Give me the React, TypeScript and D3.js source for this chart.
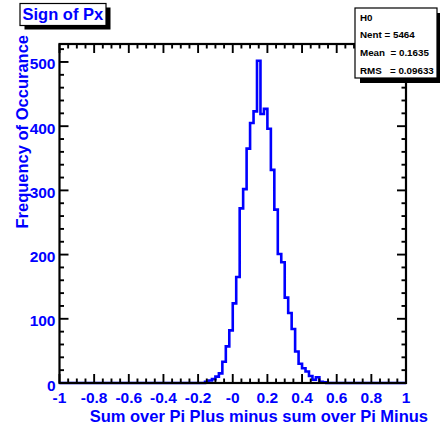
import React from "react";
import * as d3 from "d3";

// Histogram "Sign of Px": bin lower edges (bin width 0.02 over [-1, 1]) and counts
const binWidth = 0.02;
const binLowEdges = [
  -0.16, -0.14, -0.12, -0.1, -0.08, -0.06, -0.04, -0.02, 0, 0.02, 0.04, 0.06,
  0.08, 0.1, 0.12, 0.14, 0.16, 0.18, 0.2, 0.22, 0.24, 0.26, 0.28, 0.3, 0.32,
  0.34, 0.36, 0.38, 0.4, 0.42, 0.44, 0.46, 0.48, 0.5, 0.52,
];
const counts = [
  2, 4, 6, 10, 15, 33, 57, 82, 124, 165, 272, 302, 365, 405, 423, 502, 419,
  427, 396, 332, 270, 201, 188, 133, 109, 84, 49, 30, 23, 18, 11, 5, 9, 2, 1,
];

const xTickValues = [-1, -0.8, -0.6, -0.4, -0.2, 0, 0.2, 0.4, 0.6, 0.8, 1];
const xTickLabels = ["-1", "-0.8", "-0.6", "-0.4", "-0.2", "-0", "0.2", "0.4", "0.6", "0.8", "1"];
const yTickValues = [0, 100, 200, 300, 400, 500];
const yTickLabels = ["0", "100", "200", "300", "400", "500"];

const titleText = "Sign of Px";
const xTitle = "Sum over Pi Plus minus sum over Pi Minus";
const yTitle = "Frequency of Occurance";
const statsLines = ["H0", "Nent = 5464", "Mean  = 0.1635", "RMS   = 0.09633"];

const W = 440;
const H = 428;
const frame = { left: 59.5, right: 406, top: 44, bottom: 383 };
const BLUE = "#0000ff";
const FONT = "'Liberation Sans', Arial, Helvetica, sans-serif";

export default function App() {
  const x = d3.scaleLinear().domain([-1, 1]).range([frame.left, frame.right]);
  const y = d3.scaleLinear().domain([0, 528]).range([frame.bottom, frame.top]);

  // stepped outline of the histogram
  const pts: [number, number][] = [[-1, 0]];
  pts.push([binLowEdges[0], 0]);
  binLowEdges.forEach((lo, i) => {
    pts.push([lo, counts[i]]);
    pts.push([lo + binWidth, counts[i]]);
  });
  pts.push([binLowEdges[binLowEdges.length - 1] + binWidth, 0]);
  pts.push([1, 0]);
  const line = d3
    .line<[number, number]>()
    .x((d) => x(d[0]))
    .y((d) => y(d[1]));

  const xMinor = d3.range(-1, 1.0001, 0.05).filter(
    (v) => !xTickValues.some((t) => Math.abs(t - v) < 1e-6)
  );
  const yMinor = d3.range(0, 528, 20).filter((v) => v % 100 !== 0);

  const MAJ = 9;
  const MIN = 4.5;

  return (
    <svg
      width={W}
      height={H}
      style={{ position: "absolute", left: 0, top: 0, background: "#fff" }}
      fontFamily={FONT}
    >
      <rect x={0} y={0} width={W} height={H} fill="#fff" />

      {/* histogram */}
      <path d={line(pts) || ""} fill="none" stroke={BLUE} strokeWidth={2.6} strokeLinejoin="miter" />

      {/* frame */}
      <rect
        x={frame.left}
        y={frame.top}
        width={frame.right - frame.left}
        height={frame.bottom - frame.top}
        fill="none"
        stroke="#000"
        strokeWidth={2.2}
      />

      {/* x ticks bottom & top */}
      <g stroke="#000" strokeWidth={1.9}>
        {xTickValues.map((v) => (
          <g key={"xm" + v}>
            <line x1={x(v)} x2={x(v)} y1={frame.bottom} y2={frame.bottom - MAJ} />
            <line x1={x(v)} x2={x(v)} y1={frame.top} y2={frame.top + MAJ} />
          </g>
        ))}
        {xMinor.map((v) => (
          <g key={"xn" + v}>
            <line x1={x(v)} x2={x(v)} y1={frame.bottom} y2={frame.bottom - MIN} />
            <line x1={x(v)} x2={x(v)} y1={frame.top} y2={frame.top + MIN} />
          </g>
        ))}
        {yTickValues.map((v) => (
          <g key={"ym" + v}>
            <line x1={frame.left} x2={frame.left + MAJ} y1={y(v)} y2={y(v)} />
            <line x1={frame.right} x2={frame.right - MAJ} y1={y(v)} y2={y(v)} />
          </g>
        ))}
        {yMinor.map((v) => (
          <g key={"yn" + v}>
            <line x1={frame.left} x2={frame.left + MIN} y1={y(v)} y2={y(v)} />
            <line x1={frame.right} x2={frame.right - MIN} y1={y(v)} y2={y(v)} />
          </g>
        ))}
      </g>

      {/* tick labels */}
      <g fill={BLUE} fontWeight="bold" fontSize={15.5}>
        {xTickValues.map((v, i) => (
          <text key={"xl" + v} x={x(v)} y={402.5} textAnchor="middle">
            {xTickLabels[i]}
          </text>
        ))}
        {yTickValues.map((v, i) => (
          <text key={"yl" + v} x={55.5} y={y(v) + 7.5} textAnchor="end">
            {yTickLabels[i]}
          </text>
        ))}
      </g>

      {/* axis titles */}
      <text x={428} y={421.5} textAnchor="end" fill={BLUE} fontWeight="bold" fontSize={16.5}>
        {xTitle}
      </text>
      <text
        transform="translate(27.5,35) rotate(-90)"
        textAnchor="end"
        fill={BLUE}
        fontWeight="bold"
        fontSize={16.5}
      >
        {yTitle}
      </text>

      {/* title box */}
      <rect x={24.5} y={7.5} width={86} height={22} fill="#000" />
      <rect x={20} y={3.5} width={86} height={22} fill="#fff" stroke="#000" strokeWidth={1.2} />
      <text x={22.5} y={19.5} fill={BLUE} fontWeight="bold" fontSize={16.5}>
        {titleText}
      </text>

      {/* stats box */}
      <rect x={360} y={13} width={82} height={70} fill="#000" />
      <rect x={355} y={8} width={82} height={70} fill="#fff" stroke="#000" strokeWidth={1.2} />
      <g fill="#000" fontWeight="bold" fontSize={9.8}>
        {statsLines.map((s, i) => (
          <text key={s} x={360} y={[20.5, 37.5, 56, 74][i]} style={{ whiteSpace: "pre" }}>
            {s}
          </text>
        ))}
      </g>
    </svg>
  );
}
